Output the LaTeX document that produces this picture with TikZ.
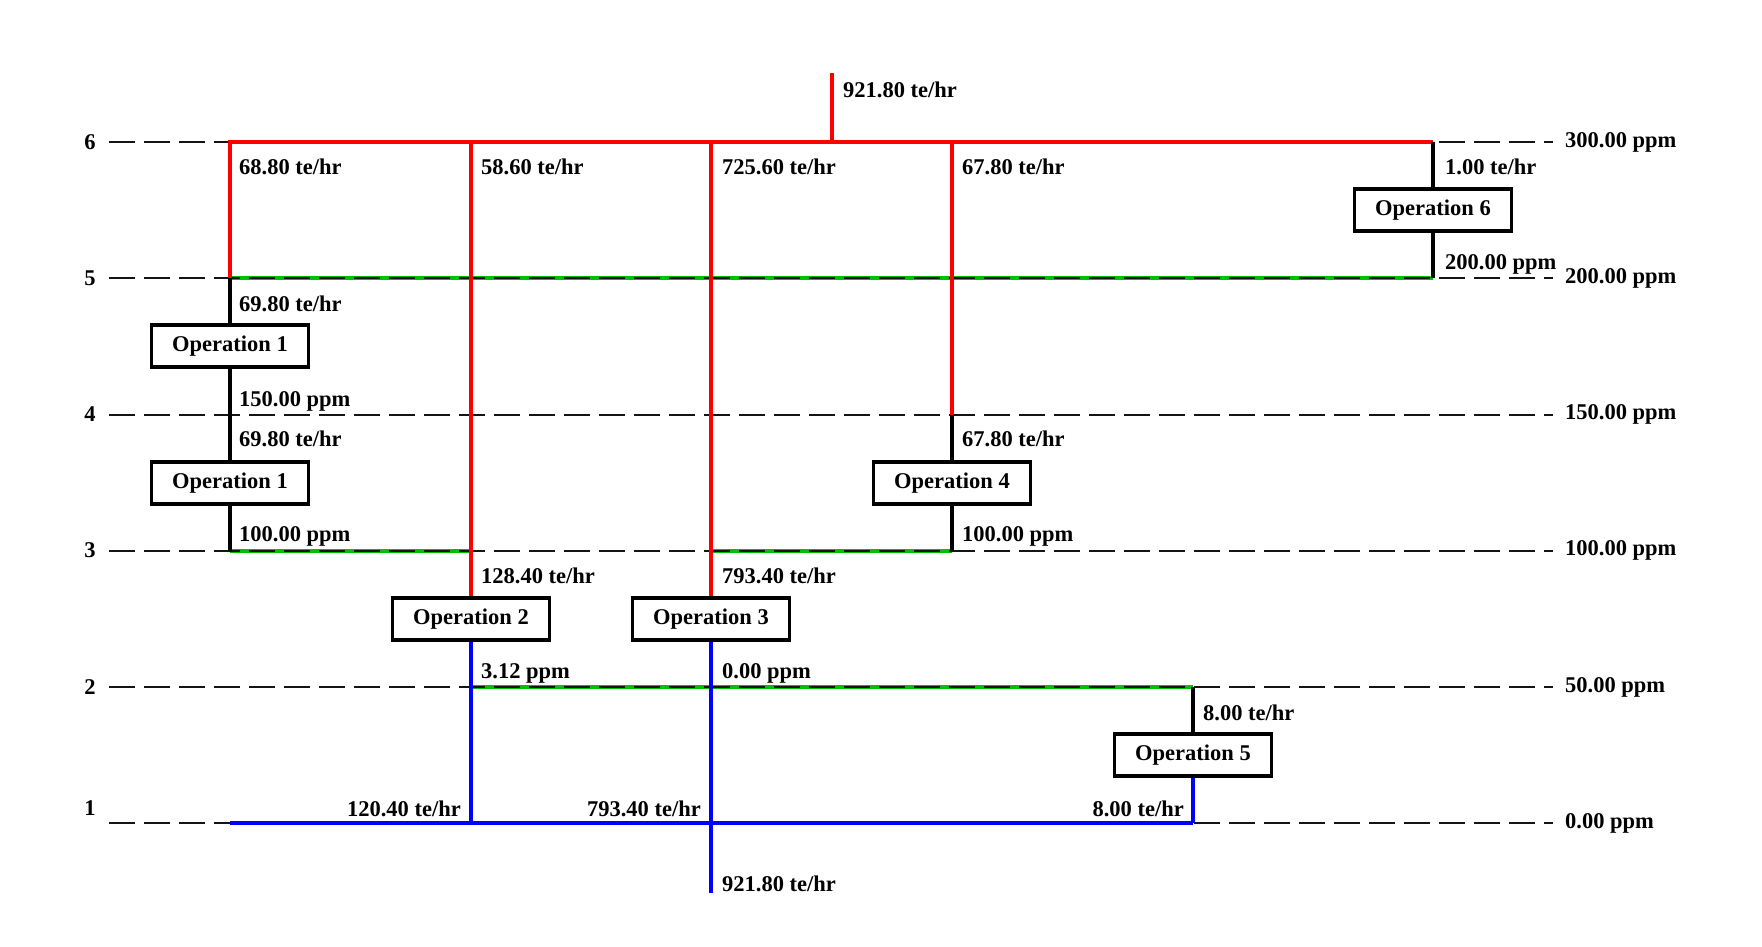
\documentclass[tikz,border=0pt]{standalone}
\usepackage{fontspec}
\setmainfont{Liberation Serif}
\definecolor{pgreen}{RGB}{0,190,0}
\definecolor{pred}{RGB}{255,0,0}
\definecolor{pblue}{RGB}{0,0,255}
\definecolor{pdash}{RGB}{20,20,20}
\begin{document}
\begin{tikzpicture}[x=1pt,y=-1pt,
  font=\fontsize{22.5}{27}\selectfont\bfseries,
  opbox/.style={draw, line width=3.8pt, minimum width=157pt, minimum height=42pt, inner sep=0pt, fill=white},
  redl/.style={draw=pred, line width=3.5pt},
  bluel/.style={draw=pblue, line width=3.5pt},
  greenl/.style={draw=pgreen, line width=4pt},
  blkl/.style={draw=black, line width=3.5pt},
  dashl/.style={draw=pdash, line width=2pt, dash pattern=on 26pt off 9pt},
  lab/.style={anchor=west, inner sep=0pt},
  rlab/.style={anchor=east, inner sep=0pt},
  lvl/.style={inner sep=0pt}]
\useasboundingbox (0,0) rectangle (1762,947);

% levels
\def\ySix{142}\def\yFive{278}\def\yFour{414.5}\def\yThree{550.5}\def\yTwo{687}\def\yOne{823}
% columns
\def\xA{230}\def\xB{471}\def\xC{711}\def\xS{832}\def\xD{952}\def\xE{1193}\def\xF{1433}

% coordinates
\coordinate (S0) at (\xS,73);
\coordinate (S6) at (\xS,\ySix);
\coordinate (A6) at (\xA,\ySix);
\coordinate (B6) at (\xB,\ySix);
\coordinate (C6) at (\xC,\ySix);
\coordinate (D6) at (\xD,\ySix);
\coordinate (F6) at (\xF,\ySix);
\coordinate (A5) at (\xA,\yFive);
\coordinate (F5) at (\xF,\yFive);
\coordinate (D4) at (\xD,\yFour);
\coordinate (A3) at (\xA,\yThree);
\coordinate (B3) at (\xB,\yThree);
\coordinate (C3) at (\xC,\yThree);
\coordinate (D3) at (\xD,\yThree);
\coordinate (B2) at (\xB,\yTwo);
\coordinate (E2) at (\xE,\yTwo);
\coordinate (A1) at (\xA,\yOne);
\coordinate (B1) at (\xB,\yOne);
\coordinate (E1) at (\xE,\yOne);
\coordinate (Cend) at (\xC,893);

% dashed level ends
\foreach \n/\y in {6/\ySix,5/\yFive,4/\yFour,3/\yThree,2/\yTwo,1/\yOne}{
  \coordinate (L\n) at (109,\y);
  \coordinate (R\n) at (1553,\y);
}

% operation boxes (placed first so connectors can refer to them)
\node[opbox] (op1a) at (\xA,346) {Operation 1};
\node[opbox] (op1b) at (\xA,483) {Operation 1};
\node[opbox] (op2) at (\xB,619) {Operation 2};
\node[opbox] (op3) at (\xC,619) {Operation 3};
\node[opbox] (op4) at (\xD,483) {Operation 4};
\node[opbox] (op5) at (\xE,755) {Operation 5};
\node[opbox] (op6) at (\xF,210) {Operation 6};

% green (wastewater at intermediate levels)
\draw[greenl] (A5) -- (F5);
\draw[greenl] (A3) -- (B3);
\draw[greenl] (C3) -- (D3);
\draw[greenl] (B2) -- (E2);

% dashed concentration levels
\foreach \n in {6,5,4,3,2,1}{
  \draw[dashl] (L\n) -- (R\n);
}

% red (fresh water)
\draw[redl] (S0) -- (S6);
\draw[redl] (A5) -- (A6) -- (F6);
\draw[redl] (B6) -- (op2.north);
\draw[redl] (C6) -- (op3.north);
\draw[redl] (D6) -- (D4);

% black
\draw[blkl] (F6) -- (op6.north);
\draw[blkl] (op6.south) -- (F5);
\draw[blkl] (A5) -- (op1a.north);
\draw[blkl] (op1a.south) -- (op1b.north);
\draw[blkl] (op1b.south) -- (A3);
\draw[blkl] (D4) -- (op4.north);
\draw[blkl] (op4.south) -- (D3);
\draw[blkl] (E2) -- (op5.north);

% blue
\draw[bluel] (op2.south) -- (B1);
\draw[bluel] (op3.south) -- (Cend);
\draw[bluel] (op5.south) -- (E1);
\draw[bluel] (A1) -- (E1);

% redraw boxes on top of the lines
\node[opbox] at (op1a) {Operation 1};
\node[opbox] at (op1b) {Operation 1};
\node[opbox] at (op2) {Operation 2};
\node[opbox] at (op3) {Operation 3};
\node[opbox] at (op4) {Operation 4};
\node[opbox] at (op5) {Operation 5};
\node[opbox] at (op6) {Operation 6};

% level numbers
\node[lvl] (n6) at (90,\ySix) {6};
\node[lvl] (n5) at (90,\yFive) {5};
\node[lvl] (n4) at (90,\yFour) {4};
\node[lvl] (n3) at (90,\yThree) {3};
\node[lvl] (n2) at (90,\yTwo) {2};
\node[lvl] (n1) at (90,808) {1};

% right concentration labels
\node[lab] (c6) at (1565,\ySix) {300.00 ppm};
\node[lab] (c5) at (1565,\yFive) {200.00 ppm};
\node[lab] (c4) at (1565,\yFour) {150.00 ppm};
\node[lab] (c3) at (1565,\yThree) {100.00 ppm};
\node[lab] (c2) at (1565,\yTwo) {50.00 ppm};
\node[lab] (c1) at (1565,\yOne) {0.00 ppm};

% flow labels
\node[lab] (t0) at (843,90) {921.80 te/hr};
\node[lab] (t1) at (239,167) {68.80 te/hr};
\node[lab] (t2) at (481,167) {58.60 te/hr};
\node[lab] (t3) at (722,167) {725.60 te/hr};
\node[lab] (t4) at (962,167) {67.80 te/hr};
\node[lab] (t5) at (1445,167) {1.00 te/hr};
\node[lab] (t6) at (1445,264) {200.00 ppm};
\node[lab] (t7) at (239,304) {69.80 te/hr};
\node[lab] (t8) at (239,401) {150.00 ppm};
\node[lab] (t9) at (239,439) {69.80 te/hr};
\node[lab] (t10) at (239,536) {100.00 ppm};
\node[lab] (t11) at (962,439) {67.80 te/hr};
\node[lab] (t12) at (962,536) {100.00 ppm};
\node[lab] (t13) at (481,576) {128.40 te/hr};
\node[lab] (t14) at (722,576) {793.40 te/hr};
\node[lab] (t15) at (481,673) {3.12 ppm};
\node[lab] (t16) at (722,673) {0.00 ppm};
\node[lab] (t17) at (1203,713) {8.00 te/hr};
\node[rlab] (t18) at (461,809) {120.40 te/hr};
\node[rlab] (t19) at (701,809) {793.40 te/hr};
\node[rlab] (t20) at (1184,809) {8.00 te/hr};
\node[lab] (t21) at (722,884) {921.80 te/hr};
\end{tikzpicture}
\end{document}
